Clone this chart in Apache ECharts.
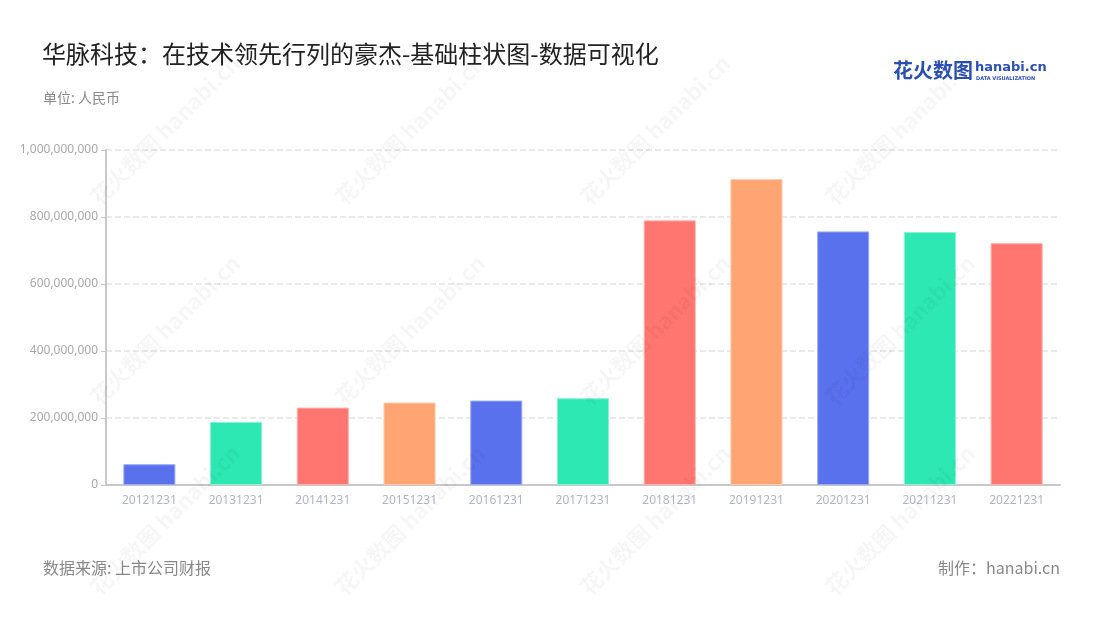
<!DOCTYPE html>
<html><head><meta charset="utf-8">
<script src="https://cdn.jsdelivr.net/npm/echarts@6/dist/echarts.min.js"></script>
<style>html,body{margin:0;padding:0;background:#fff}#c{width:1100px;height:620px}</style>
</head><body><div id="c"></div>
<script>
const categories = ['20121231','20131231','20141231','20151231','20161231','20171231','20181231','20191231','20201231','20211231','20221231'];
const values = [62000000,188000000,231000000,246000000,252000000,259000000,790000000,913000000,757000000,755000000,722000000];
const palette = ['#5a71ee','#2de8b2','#ff7670','#ffa473'];
const borders = ['#9aa8f5','#8af2d3','#ffb0ac','#ffc8a8'];
const yTicks = {min:0,max:1000000000,interval:200000000};

const chart = echarts.init(document.getElementById('c'));
const font = '"Noto Sans CJK SC","Noto Sans",sans-serif';
const wm = [];
const wmX = [165,410,655,900];
const wmY = [130,330,520];
wmX.forEach(x=>wmY.forEach(y=>{
  wm.push({type:'text',x:x,y:y,rotation:Math.PI/4,z:100,silent:true,
    style:{text:'花火数图 hanabi.cn',font:'bold 22px '+font,fill:'rgba(0,0,0,0.035)',align:'center',verticalAlign:'middle'}});
}));
chart.setOption({
  animation:false,
  textStyle:{fontFamily:font},
  title:[
    {text:'华脉科技：在技术领先行列的豪杰-基础柱状图-数据可视化',left:37,top:37,textStyle:{fontSize:24,fontWeight:'normal',color:'#222',fontFamily:font}},
    {text:'单位: 人民币',left:38,top:86,textStyle:{fontSize:14,fontWeight:'normal',color:'#8a8a8a',fontFamily:font}},
    {text:'数据来源: 上市公司财报',left:38,top:555,textStyle:{fontSize:16,fontWeight:'normal',color:'#888',fontFamily:font}},
    {text:'制作：hanabi.cn',right:35,top:555,textStyle:{fontSize:16,fontWeight:'normal',color:'#888',fontFamily:font}}
  ],
  graphic:[
    {type:'text',left:893,top:60,style:{text:'花火数图',font:'bold 20px '+font,fill:'#2b4fb3'}},
    {type:'text',left:975,top:61,style:{text:'hanabi.cn',font:'bold 13px "DejaVu Sans",sans-serif',fill:'#2b4fb3'}},
    {type:'text',left:976,top:76,style:{text:'DATA VISUALIZATION',font:'bold 5px "DejaVu Sans",sans-serif',fill:'#2b4fb3'}},
    ...wm
  ],
  grid:{left:106,right:40,top:150,bottom:135},
  xAxis:{type:'category',data:categories,
    axisLine:{lineStyle:{color:'#c8c8c8',width:2}},
    axisTick:{alignWithLabel:true,lineStyle:{color:'#aaa'}},
    axisLabel:{color:'#b0b5c5',fontSize:12,margin:10,fontFamily:'"Noto Sans",sans-serif'}},
  yAxis:{type:'value',min:yTicks.min,max:yTicks.max,interval:yTicks.interval,
    axisLine:{show:true,lineStyle:{color:'#c8c8c8',width:2}},
    axisTick:{show:true,length:5,lineStyle:{color:'#c8c8c8'}},
    splitLine:{lineStyle:{type:'dashed',color:'#e3e3e3',width:1.5}},
    axisLabel:{color:'#a8a8a8',fontSize:12,formatter:v=>v.toLocaleString('en-US'),fontFamily:'"Noto Sans",sans-serif'}},
  series:[{type:'bar',barWidth:'60%',
    data:values.map((v,i)=>({value:v,itemStyle:{color:palette[i%4],borderColor:borders[i%4],borderWidth:1}}))}]
});
</script></body></html>
